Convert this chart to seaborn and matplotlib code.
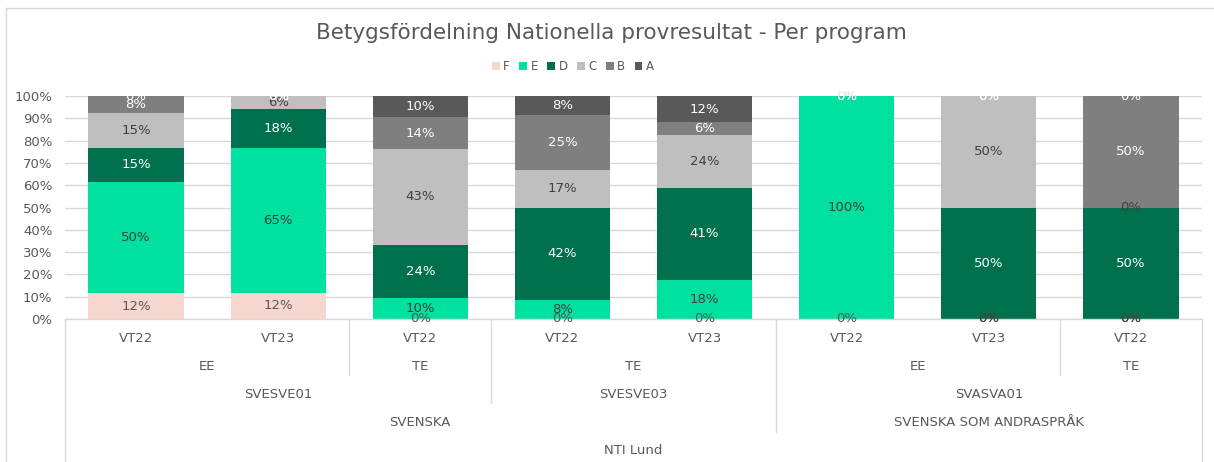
import matplotlib
matplotlib.use("Agg")
import matplotlib.pyplot as plt
import matplotlib.transforms as mtransforms
from matplotlib.lines import Line2D
from matplotlib.patches import Patch
import seaborn as sns
import pandas as pd

# ---------------- data ----------------
terms = ["VT22", "VT23", "VT22", "VT22", "VT23", "VT22", "VT23", "VT22"]
programs = ["EE", "EE", "TE", "TE", "TE", "EE", "EE", "TE"]
courses = ["SVESVE01", "SVESVE01", "SVESVE01", "SVESVE03", "SVESVE03",
           "SVASVA01", "SVASVA01", "SVASVA01"]
subjects = ["SVENSKA"] * 5 + ["SVENSKA SOM ANDRASPRÅK"] * 3
school = ["NTI Lund"] * 8

grades = ["F", "E", "D", "C", "B", "A"]
F = [11.5, 11.8, 0.0, 0.0, 0.0, 0.0, 0.0, 0.0]
E = [50.0, 64.7, 9.5, 8.3, 17.6, 100.0, 0.0, 0.0]
D = [15.4, 17.6, 23.8, 41.7, 41.2, 0.0, 50.0, 50.0]
C = [15.4, 5.9, 42.9, 16.7, 23.5, 0.0, 50.0, 0.0]
B = [7.7, 0.0, 14.3, 25.0, 5.9, 0.0, 0.0, 50.0]
A = [0.0, 0.0, 9.5, 8.3, 11.8, 0.0, 0.0, 0.0]
series = {"F": F, "E": E, "D": D, "C": C, "B": B, "A": A}

colors = {"F": "#F6D7CF", "E": "#00E09E", "D": "#00704E",
          "C": "#BFBFBF", "B": "#7F7F7F", "A": "#595959"}
label_colors = {"F": "#595959", "E": "#404040", "D": "white",
                "C": "#404040", "B": "white", "A": "white"}

TXT = "#595959"
GRID = "#D9D9D9"

# ---------------- setup ----------------
sns.set_style("white")
plt.rcParams["font.family"] = ["DejaVu Sans"]

W, H = 1214, 462
fig = plt.figure(figsize=(W / 100, H / 100), dpi=100)
ax = fig.add_axes([65 / W, 1 - 319 / H, (1202 - 65) / W, (319 - 96) / H])

keys = [f"{i}" for i in range(len(terms))]
df = pd.DataFrame({"key": keys})
cum = [0.0] * len(keys)
cums = {}
bottoms = {}
for g in grades:
    bottoms[g] = list(cum)
    cum = [c + v for c, v in zip(cum, series[g])]
    cums[g] = list(cum)

# overlay cumulative bars, tallest first
for g in reversed(grades):
    df["val"] = cums[g]
    sns.barplot(data=df, x="key", y="val", order=keys, color=colors[g],
                saturation=1, width=0.67, errorbar=None, ax=ax, zorder=2,
                linewidth=0)

ax.set_xlim(-0.5, len(keys) - 0.5)
ax.set_ylim(0, 100)
ax.set_yticks(range(0, 101, 10))
ax.set_yticklabels([f"{v}%" for v in range(0, 101, 10)], color=TXT, fontsize=9.5)
ax.tick_params(axis="y", length=0, pad=9)
ax.set_xticks([])
ax.set_xlabel("")
ax.set_ylabel("")
ax.yaxis.grid(True, color=GRID, linewidth=1)
ax.set_axisbelow(True)
for s in ["left", "right", "top"]:
    ax.spines[s].set_visible(False)
ax.spines["bottom"].set_color(GRID)
ax.spines["bottom"].set_linewidth(1)

# data labels
for g in grades:
    for i, v in enumerate(series[g]):
        y = bottoms[g][i] + v / 2
        ax.text(i, y, f"{round(v):.0f}%", ha="center", va="center",
                fontsize=9.5, color=label_colors[g], zorder=5, clip_on=False)

# ---------------- multi-level category axis ----------------
tr = mtransforms.blended_transform_factory(ax.transData, fig.transFigure)

def fy(py):
    return 1 - py / H

def group_spans(labels_lists):
    spans = []
    start = 0
    n = len(labels_lists[0])
    for i in range(1, n + 1):
        if i == n or any(l[i] != l[start] for l in labels_lists):
            spans.append((start, i - 1, labels_lists[0][start]))
            start = i
    return spans

row_y = [338, 366, 394, 422, 451]
levels = [terms, programs, courses, subjects, school]
for lvl, ypix in enumerate(row_y):
    if lvl == 0:
        for i, t in enumerate(terms):
            ax.text(i, fy(ypix), t, transform=tr, ha="center", va="center",
                    fontsize=9.5, color=TXT)
    else:
        spans = group_spans(levels[lvl:])
        for s0, s1, lab in spans:
            ax.text((s0 + s1) / 2, fy(ypix), lab, transform=tr, ha="center",
                    va="center", fontsize=9.5, color=TXT)

# separator lines: depth determined by outermost level that changes
row_bottom = [347, 375, 403, 432, 462]
n = len(terms)
bounds = [-0.5] + [i + 0.5 for i in range(n - 1)] + [n - 0.5]
for bi, bx in enumerate(bounds):
    if bi == 0 or bi == n:
        depth = 4
    else:
        i = bi
        depth = -1
        for lvl in range(1, 5):
            if levels[lvl][i] != levels[lvl][i - 1]:
                depth = lvl
        if depth == -1:
            continue
    ax.add_line(Line2D([bx, bx], [fy(319), fy(row_bottom[depth])], transform=tr,
                       color=GRID, linewidth=1, clip_on=False))

# ---------------- title, legend, border ----------------
fig.text(611 / W, fy(33), "Betygsfördelning Nationella provresultat - Per program",
         ha="center", va="center", fontsize=15.5, color=TXT)

handles = [Patch(facecolor=colors[g], edgecolor="none", label=g) for g in grades]
leg = fig.legend(handles=handles, loc="center", bbox_to_anchor=(573 / W, fy(67)),
                 ncol=6, frameon=False, fontsize=8.5, handlelength=0.65,
                 handleheight=0.65, handletextpad=0.3, columnspacing=0.8,
                 borderaxespad=0)
for t in leg.get_texts():
    t.set_color(TXT)

fig.add_artist(Line2D([6 / W, 1], [fy(8), fy(8)], transform=fig.transFigure,
                      color=GRID, linewidth=1))
fig.add_artist(Line2D([6 / W, 6 / W], [fy(8), 0], transform=fig.transFigure,
                      color=GRID, linewidth=1))

fig.savefig("out.png", dpi=100, facecolor="white")
